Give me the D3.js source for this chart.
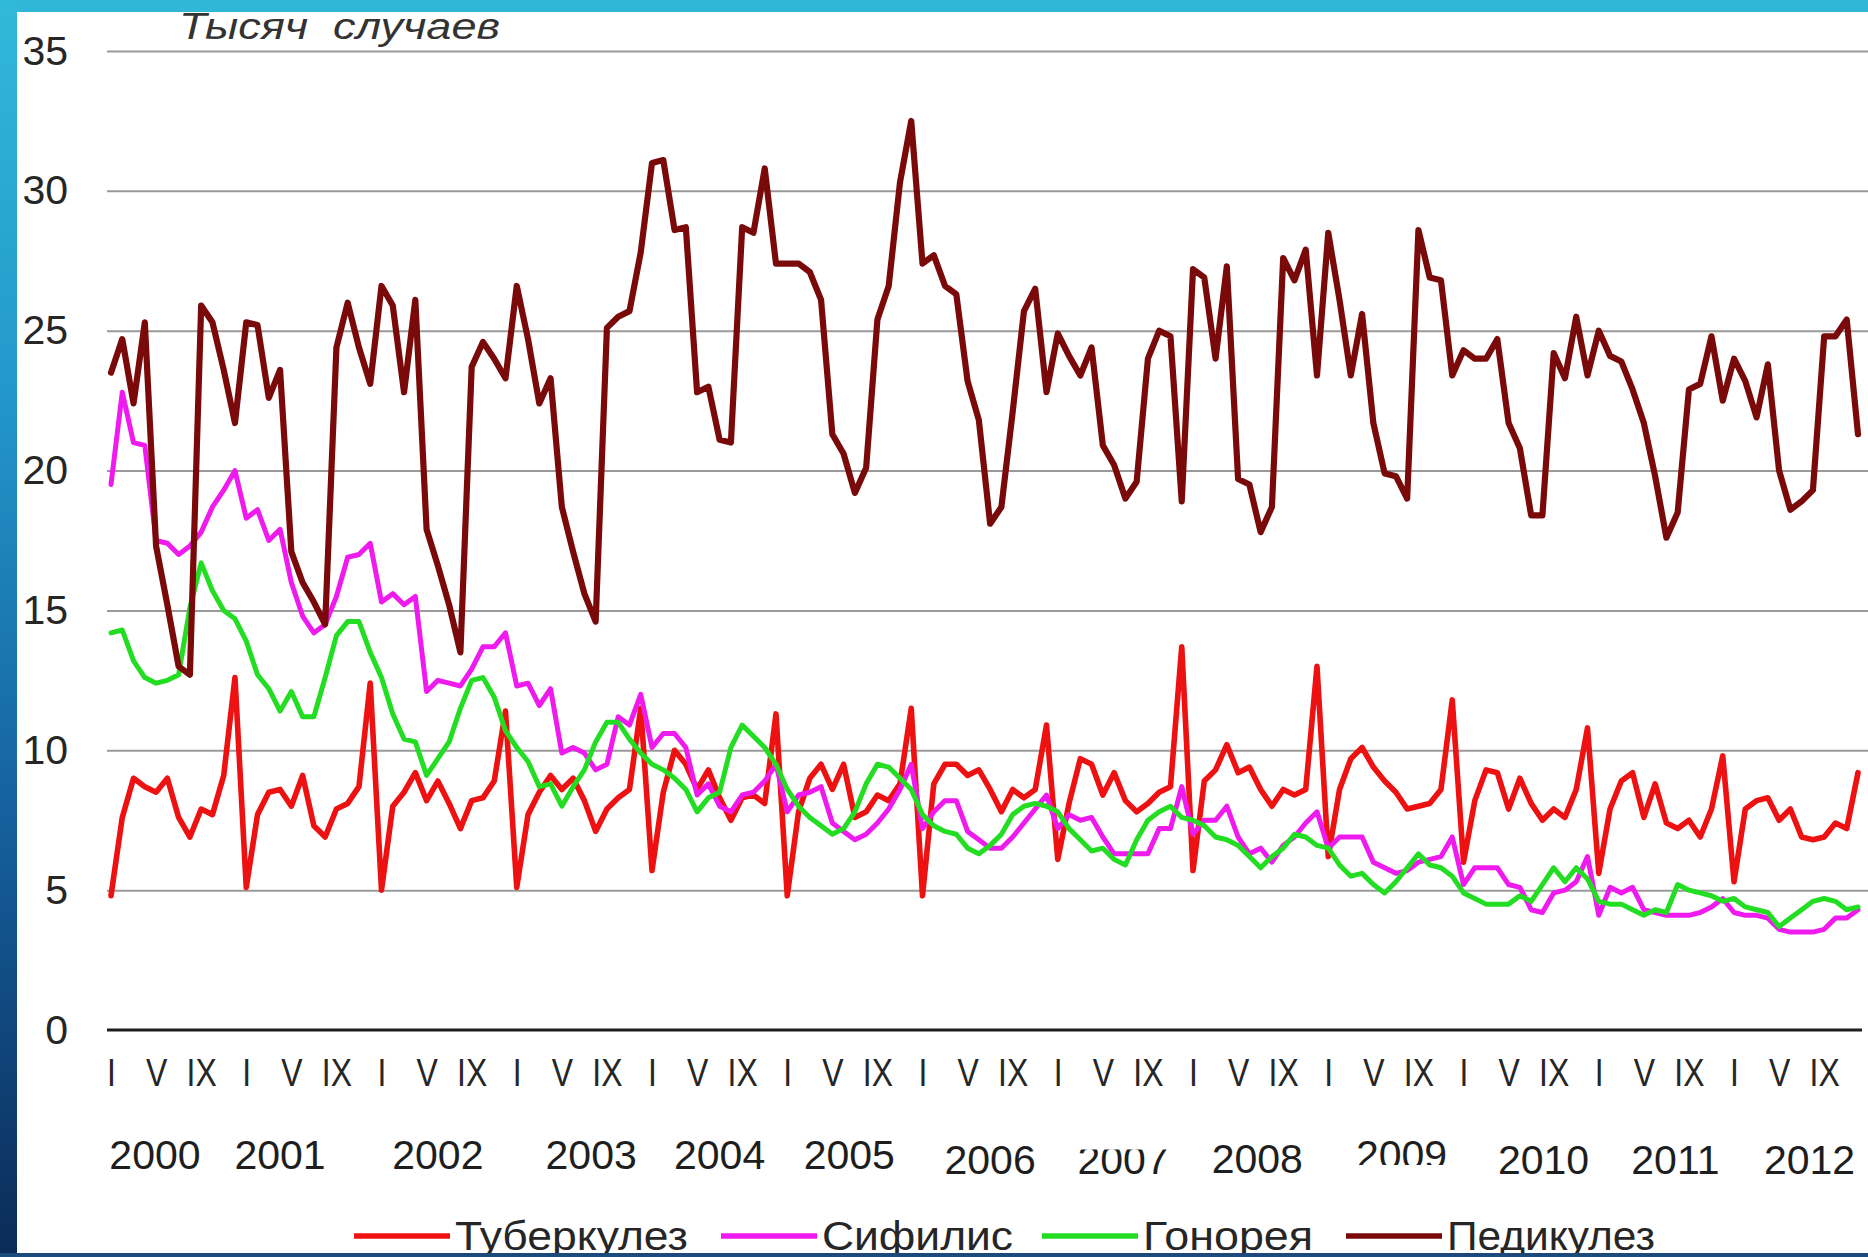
<!DOCTYPE html>
<html><head><meta charset="utf-8">
<script src="https://cdn.jsdelivr.net/npm/d3@7"></script>
<style>
html,body{margin:0;padding:0;background:#fff;}
svg{display:block;font-family:"Liberation Sans",Arial,sans-serif;}
</style></head><body>
<svg id="chart" width="1868" height="1257"></svg>
<script>
// ---------------- DATA ----------------
const years = [2000,2001,2002,2003,2004,2005,2006,2007,2008,2009,2010,2011,2012];
const monthTickLabels = ["I","V","IX"];
const monthTickOffsets = [0,4,8];
const yTicks = [0,5,10,15,20,25,30,35];
const seriesNames = ["Туберкулез","Сифилис","Гонорея","Педикулез"];
const unitTitle = "Тысяч  случаев";

const tuberculosis = [
 4.8,7.6,9.0,8.7,8.5,9.0,7.6,6.9,7.9,7.7,9.1,12.6,
 5.1,7.7,8.5,8.6,8.0,9.1,7.3,6.9,7.9,8.1,8.7,12.4,
 5.0,8.0,8.5,9.2,8.2,8.9,8.1,7.2,8.2,8.3,8.9,11.4,
 5.1,7.7,8.5,9.1,8.6,9.0,8.2,7.1,7.9,8.3,8.6,11.5,
 5.7,8.5,10.0,9.5,8.6,9.3,8.3,7.5,8.3,8.4,8.1,11.3,
 4.8,7.8,9.0,9.5,8.6,9.5,7.6,7.8,8.4,8.2,8.8,11.5,
 4.8,8.8,9.5,9.5,9.1,9.3,8.6,7.8,8.6,8.3,8.6,10.9,
 6.1,8.1,9.7,9.5,8.4,9.2,8.2,7.8,8.1,8.5,8.7,13.7,
 5.7,8.9,9.3,10.2,9.2,9.4,8.6,8.0,8.6,8.4,8.6,13.0,
 6.2,8.6,9.7,10.1,9.4,8.9,8.5,7.9,8.0,8.1,8.6,11.8,
 6.0,8.2,9.3,9.2,7.9,9.0,8.1,7.5,7.9,7.6,8.6,10.8,
 5.6,7.9,8.9,9.2,7.6,8.8,7.4,7.2,7.5,6.9,7.9,9.8,
 5.3,7.9,8.2,8.3,7.5,7.9,6.9,6.8,6.9,7.4,7.2,9.2
];
const syphilis = [
 19.5,22.8,21.0,20.9,17.5,17.4,17.0,17.3,17.8,18.7,19.3,20.0,
 18.3,18.6,17.5,17.9,16.0,14.8,14.2,14.5,15.5,16.9,17.0,17.4,
 15.3,15.6,15.2,15.5,12.1,12.5,12.4,12.3,12.9,13.7,13.7,14.2,
 12.3,12.4,11.6,12.2,9.9,10.1,9.9,9.3,9.5,11.2,10.9,12.0,
 10.1,10.6,10.6,10.1,8.4,8.8,8.0,7.8,8.4,8.5,8.9,9.5,
 7.8,8.4,8.5,8.7,7.4,7.1,6.8,7.0,7.4,7.9,8.6,9.5,
 7.2,7.8,8.2,8.2,7.1,6.8,6.5,6.5,6.9,7.4,7.9,8.4,
 7.2,7.7,7.5,7.6,6.9,6.3,6.3,6.3,6.3,7.2,7.2,8.7,
 7.0,7.5,7.5,8.0,6.9,6.3,6.5,6.0,6.6,6.9,7.4,7.8,
 6.5,6.9,6.9,6.9,6.0,5.8,5.6,5.7,6.0,6.1,6.2,6.9,
 5.2,5.8,5.8,5.8,5.2,5.1,4.3,4.2,4.9,5.0,5.3,6.2,
 4.1,5.1,4.9,5.1,4.3,4.2,4.1,4.1,4.1,4.2,4.4,4.7,
 4.2,4.1,4.1,4.0,3.6,3.5,3.5,3.5,3.6,4.0,4.0,4.3
];
const gonorrhea = [
 14.2,14.3,13.2,12.6,12.4,12.5,12.7,15.1,16.7,15.7,15.0,14.7,
 13.9,12.7,12.2,11.4,12.1,11.2,11.2,12.6,14.1,14.6,14.6,13.5,
 12.6,11.3,10.4,10.3,9.1,9.7,10.3,11.5,12.5,12.6,11.9,10.7,
 10.1,9.6,8.7,8.8,8.0,8.7,9.3,10.3,11.0,11.0,10.4,9.9,
 9.5,9.3,9.0,8.6,7.8,8.3,8.5,10.1,10.9,10.5,10.1,9.5,
 8.6,8.0,7.6,7.3,7.0,7.2,7.8,8.8,9.5,9.4,9.0,8.6,
 7.7,7.3,7.1,7.0,6.5,6.3,6.6,7.0,7.7,8.0,8.1,8.0,
 7.8,7.2,6.8,6.4,6.5,6.1,5.9,6.8,7.5,7.8,8.0,7.6,
 7.5,7.3,6.9,6.8,6.6,6.2,5.8,6.2,6.5,7.0,6.9,6.6,
 6.5,5.9,5.5,5.6,5.2,4.9,5.3,5.8,6.3,5.9,5.8,5.5,
 4.9,4.7,4.5,4.5,4.5,4.8,4.6,5.2,5.8,5.3,5.8,5.4,
 4.6,4.5,4.5,4.3,4.1,4.3,4.2,5.2,5.0,4.9,4.8,4.6,
 4.7,4.4,4.3,4.2,3.7,4.0,4.3,4.6,4.7,4.6,4.3,4.4
];
const pediculosis = [
 23.5,24.7,22.4,25.3,17.3,15.2,13.0,12.7,25.9,25.3,23.6,21.7,
 25.3,25.2,22.6,23.6,17.1,16.0,15.3,14.5,24.4,26.0,24.4,23.1,
 26.6,25.9,22.8,26.1,17.9,16.6,15.2,13.5,23.7,24.6,24.0,23.3,
 26.6,24.7,22.4,23.3,18.7,17.1,15.6,14.6,25.1,25.5,25.7,27.8,
 31.0,31.1,28.6,28.7,22.8,23.0,21.1,21.0,28.7,28.5,30.8,27.4,
 27.4,27.4,27.1,26.1,21.3,20.6,19.2,20.1,25.4,26.6,30.3,32.5,
 27.4,27.7,26.6,26.3,23.2,21.8,18.1,18.7,22.1,25.7,26.5,22.8,
 24.9,24.1,23.4,24.4,20.9,20.2,19.0,19.6,24.0,25.0,24.8,18.9,
 27.2,26.9,24.0,27.3,19.7,19.5,17.8,18.7,27.6,26.8,27.9,23.4,
 28.5,26.1,23.4,25.6,21.7,19.9,19.8,19.0,28.6,26.9,26.8,23.4,
 24.3,24.0,24.0,24.7,21.7,20.8,18.4,18.4,24.2,23.3,25.5,23.4,
 25.0,24.1,23.9,22.9,21.7,19.8,17.6,18.5,22.9,23.1,24.8,22.5,
 24.0,23.2,21.9,23.8,20.0,18.6,18.9,19.3,24.8,24.8,25.4,21.3
];

// ---------------- LAYOUT / STYLE ----------------
const W = 1868, H = 1257;
const colors = ["#ee1111","#ee1aee","#22dd22","#7a0a0a"];
const widths = [5.6,5,5,6.2];
// year label placement (in month-index units) and baselines as seen in the picture
const yearLabelPos = [3.9,15.0,29.0,42.6,54.0,65.5,78.0,89.8,101.7,114.5,127.1,138.8,150.7];
const yearLabelBase = [1169,1169,1169,1169,1169,1169,1174,1174,1173,1169,1174,1174,1174];
const legendStart = [354,721,1042,1346];
const legendTextLen = [233,191,170,208];

const svg = d3.select("#chart");
const defs = svg.append("defs");
const grad = defs.append("linearGradient").attr("id","lg").attr("x1",0).attr("y1",0).attr("x2",0).attr("y2",1);
[["0%","#31b9d9"],["30%","#2399cb"],["65%","#15609e"],["100%","#0b2b57"]].forEach(s=>grad.append("stop").attr("offset",s[0]).attr("stop-color",s[1]));

svg.append("rect").attr("width",W).attr("height",H).attr("fill","#ffffff");

const nMonths = years.length*12;
const x = d3.scaleLinear().domain([0,nMonths-1]).range([111,1858]);
const y = d3.scaleLinear().domain([0,35]).range([1030,51]);

// gridlines
const grid = svg.append("g").attr("transform","translate(107,0)")
  .call(d3.axisRight(y).tickValues(yTicks.slice(1)).tickSize(W-107).tickFormat(""));
grid.select(".domain").remove();
grid.selectAll("line").attr("stroke","#9a9a9a").attr("stroke-width",2);

// zero axis
svg.append("line").attr("x1",107).attr("x2",1862).attr("y1",y(0)).attr("y2",y(0))
  .attr("stroke","#1e1e1e").attr("stroke-width",3);

// y labels
const ya = svg.append("g").attr("transform","translate(68,0)")
  .call(d3.axisLeft(y).tickValues(yTicks).tickSize(0).tickPadding(0).tickFormat(d3.format("d")));
ya.select(".domain").remove();
ya.selectAll("text").attr("font-size",41).attr("fill","#262626").attr("font-family","Liberation Sans, Arial, sans-serif");

// month tick labels
const monthIdx = [];
const monthLab = {};
years.forEach((yr,k)=>monthTickOffsets.forEach((m,j)=>{const idx=k*12+m; monthIdx.push(idx); monthLab[idx]=monthTickLabels[j];}));
const xa = svg.append("g").attr("transform",`translate(0,${y(0)})`)
  .call(d3.axisBottom(x).tickValues(monthIdx).tickSize(0).tickPadding(0).tickFormat(i=>monthLab[i]));
xa.select(".domain").remove();
xa.selectAll("text").attr("font-size",38).attr("fill","#262626")
  .attr("font-family","Liberation Sans, Arial, sans-serif")
  .attr("dy",null).attr("y",56).attr("transform","scale(0.84,1)");

// year labels with the clipping seen on 2007 and 2009
defs.append("clipPath").attr("id","clip2007").append("rect").attr("x",0).attr("y",1149.5).attr("width",W).attr("height",100);
defs.append("clipPath").attr("id","clip2009").append("rect").attr("x",0).attr("y",1000).attr("width",W).attr("height",165);
svg.append("g").selectAll("text").data(years).join("text")
  .attr("x",(d,i)=>x(yearLabelPos[i])).attr("y",(d,i)=>yearLabelBase[i])
  .attr("text-anchor","middle").attr("font-size",41).attr("fill","#1e1e1e")
  .attr("clip-path",d=>d===2007?"url(#clip2007)":d===2009?"url(#clip2009)":null)
  .text(d=>d);

// series lines (Excel order: later series on top)
const series = [tuberculosis,syphilis,gonorrhea,pediculosis];
const line = d3.line().x((d,i)=>x(i)).y(d=>y(d));
svg.append("g").selectAll("path").data(series).join("path")
  .attr("d",line).attr("fill","none")
  .attr("stroke",(d,i)=>colors[i]).attr("stroke-width",(d,i)=>widths[i])
  .attr("stroke-linejoin","round").attr("stroke-linecap","round");

// title (partly under the top band)
svg.append("text").attr("x",179).attr("y",39).attr("font-size",37).attr("font-style","italic")
  .attr("fill","#333").attr("textLength",321).attr("lengthAdjust","spacingAndGlyphs")
  .attr("xml:space","preserve").style("white-space","pre").text(unitTitle);

// legend
const lg = svg.append("g").selectAll("g").data(seriesNames).join("g")
  .attr("transform",(d,i)=>`translate(${legendStart[i]},1236)`);
lg.append("line").attr("x1",0).attr("x2",96).attr("y1",0).attr("y2",0)
  .attr("stroke",(d,i)=>colors[i]).attr("stroke-width",5.5);
lg.append("text").attr("x",101).attr("y",14).attr("font-size",40).attr("fill","#262626")
  .attr("textLength",(d,i)=>legendTextLen[i]).attr("lengthAdjust","spacingAndGlyphs").text(d=>d);

// frame decorations: top band, left gradient strip, bottom line
svg.append("rect").attr("x",0).attr("y",0).attr("width",W).attr("height",12).attr("fill","#30b7d7");
svg.append("rect").attr("x",0).attr("y",0).attr("width",17).attr("height",H).attr("fill","url(#lg)");
svg.append("rect").attr("x",0).attr("y",1253).attr("width",W).attr("height",4).attr("fill","#1c4a7c");
</script>
</body></html>
